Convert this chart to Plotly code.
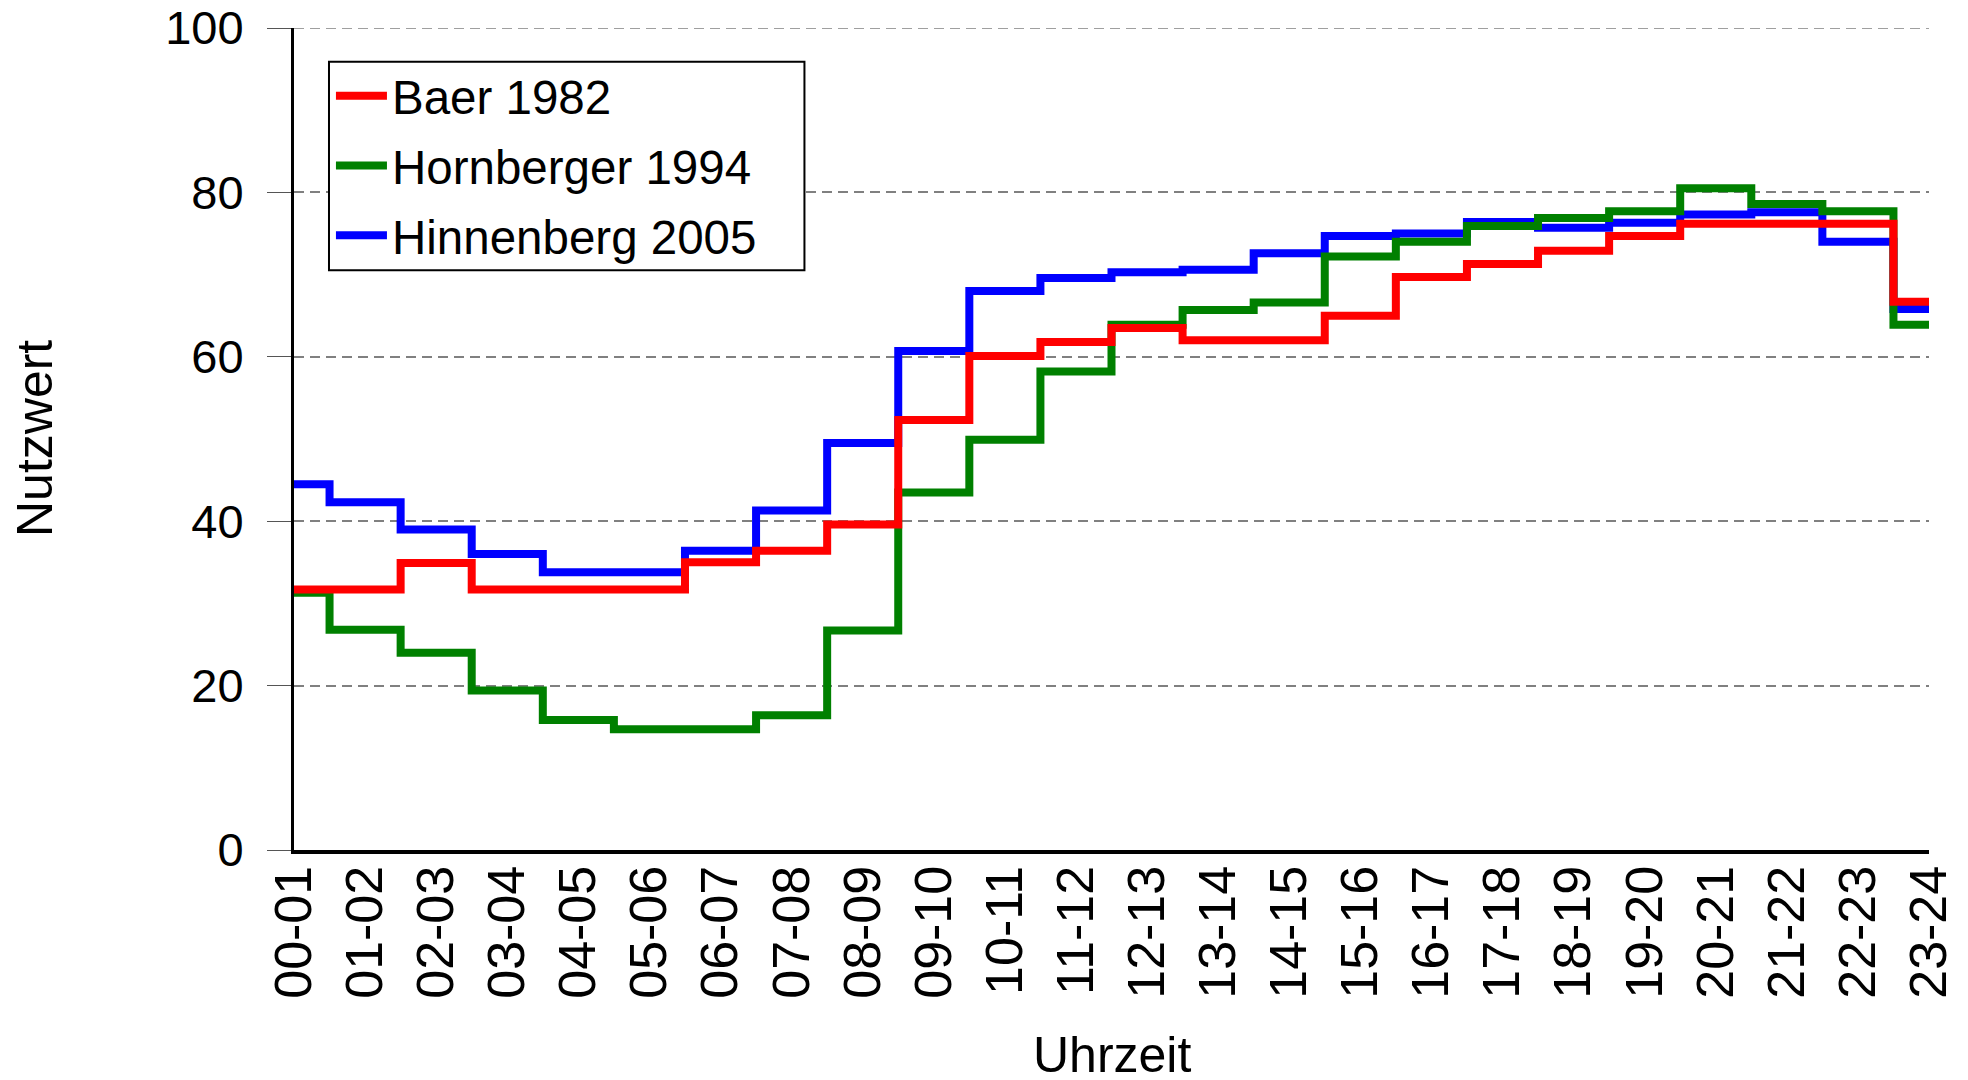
import plotly.graph_objects as go

# Stundenintervalle
hours = ['00-01', '01-02', '02-03', '03-04', '04-05', '05-06', '06-07', '07-08',
         '08-09', '09-10', '10-11', '11-12', '12-13', '13-14', '14-15', '15-16',
         '16-17', '17-18', '18-19', '19-20', '20-21', '21-22', '22-23', '23-24']

baer_1982 = [31.7, 31.7, 34.9, 31.7, 31.7, 31.7, 35.0, 36.4, 39.6, 52.3, 60.1, 61.8,
             63.5, 62.0, 62.0, 65.0, 69.7, 71.3, 72.9, 74.7, 76.2, 76.2, 76.2, 66.7]
hornberger_1994 = [31.3, 26.8, 24.0, 19.4, 15.8, 14.7, 14.7, 16.4, 26.7, 43.5, 49.9, 58.2,
                   63.9, 65.7, 66.6, 72.2, 74.0, 75.9, 76.9, 77.7, 80.5, 78.6, 77.7, 63.9]
hinnenberg_2005 = [44.5, 42.3, 39.0, 36.0, 33.8, 33.8, 36.4, 41.3, 49.5, 60.7, 68.0, 69.6,
                   70.3, 70.6, 72.6, 74.7, 75.0, 76.4, 75.7, 76.3, 77.3, 77.6, 74.0, 65.8]

y_ticks = [0, 20, 40, 60, 80, 100]

FONT = 'Liberation Sans, Arial, sans-serif'

fig = go.Figure()

# Zeichenreihenfolge: blau unten, rot oben
series = [
    ('Hinnenberg 2005', hinnenberg_2005, '#0000FF', 3),
    ('Hornberger 1994', hornberger_1994, '#008000', 2),
    ('Baer 1982', baer_1982, '#FF0000', 1),
]
for name, vals, color, rank in series:
    fig.add_trace(go.Scatter(x=hours, y=vals, name=name, mode='lines',
                             line=dict(color=color, width=8, shape='hvh'),
                             legendrank=rank, legendgroup=name))

# oberste Gitterlinie (plotly lässt sie am Rand weg)
fig.add_shape(type='line', xref='paper', yref='y', x0=0, x1=1,
              y0=y_ticks[-1], y1=y_ticks[-1], layer='below',
              line=dict(color='#808080', width=1.5, dash='10px,6px'))

# Legendenrahmen als eigenes Rechteck (breiter als plotly ihn macht)
fig.add_shape(type='rect', xref='paper', yref='paper',
              x0=0.0214, x1=0.3122, y0=0.7052, y1=0.9588, layer='above',
              fillcolor='white', line=dict(color='black', width=2))

# Seite hat 8px Rand, daher Figur etwas kleiner
fig.update_layout(
    width=1960, height=1072,
    margin=dict(l=286, r=39, t=20, b=230),
    paper_bgcolor='white', plot_bgcolor='white',
    font=dict(family=FONT, size=46, color='black'),
    showlegend=True,
    legend=dict(x=0.0226, y=0.963, xanchor='left', yanchor='top',
                borderwidth=0, bgcolor='rgba(0,0,0,0)',
                font=dict(size=47.5), tracegroupgap=5, itemwidth=51),
    xaxis=dict(type='category', categoryorder='array', categoryarray=hours,
               range=[0, 23], tickangle=-90, showgrid=False, zeroline=False,
               showline=True, linecolor='black', linewidth=4, ticks='',
               automargin=False, ticklabelstandoff=-9, tickfont=dict(size=52)),
    yaxis=dict(range=[0, 100], tickvals=y_ticks, showgrid=True,
               gridcolor='#808080', gridwidth=1.5, griddash='10px,6px',
               zeroline=False, showline=True, linecolor='black', linewidth=3,
               ticks='outside', ticklen=24, tickcolor='#555555', tickwidth=1,
               automargin=False, ticklabeloverflow='allow',
               ticklabelstandoff=14, tickfont=dict(size=47)),
    annotations=[
        dict(text='Uhrzeit', x=0.5, y=0, xref='paper', yref='paper',
             xanchor='center', yanchor='middle', yshift=-205, showarrow=False,
             font=dict(size=50)),
        dict(text='Nutzwert', x=0, y=0.5, xref='paper', yref='paper',
             xanchor='center', yanchor='middle', xshift=-259, textangle=-90,
             showarrow=False, font=dict(size=50)),
    ],
)

fig.write_html('out.html')
